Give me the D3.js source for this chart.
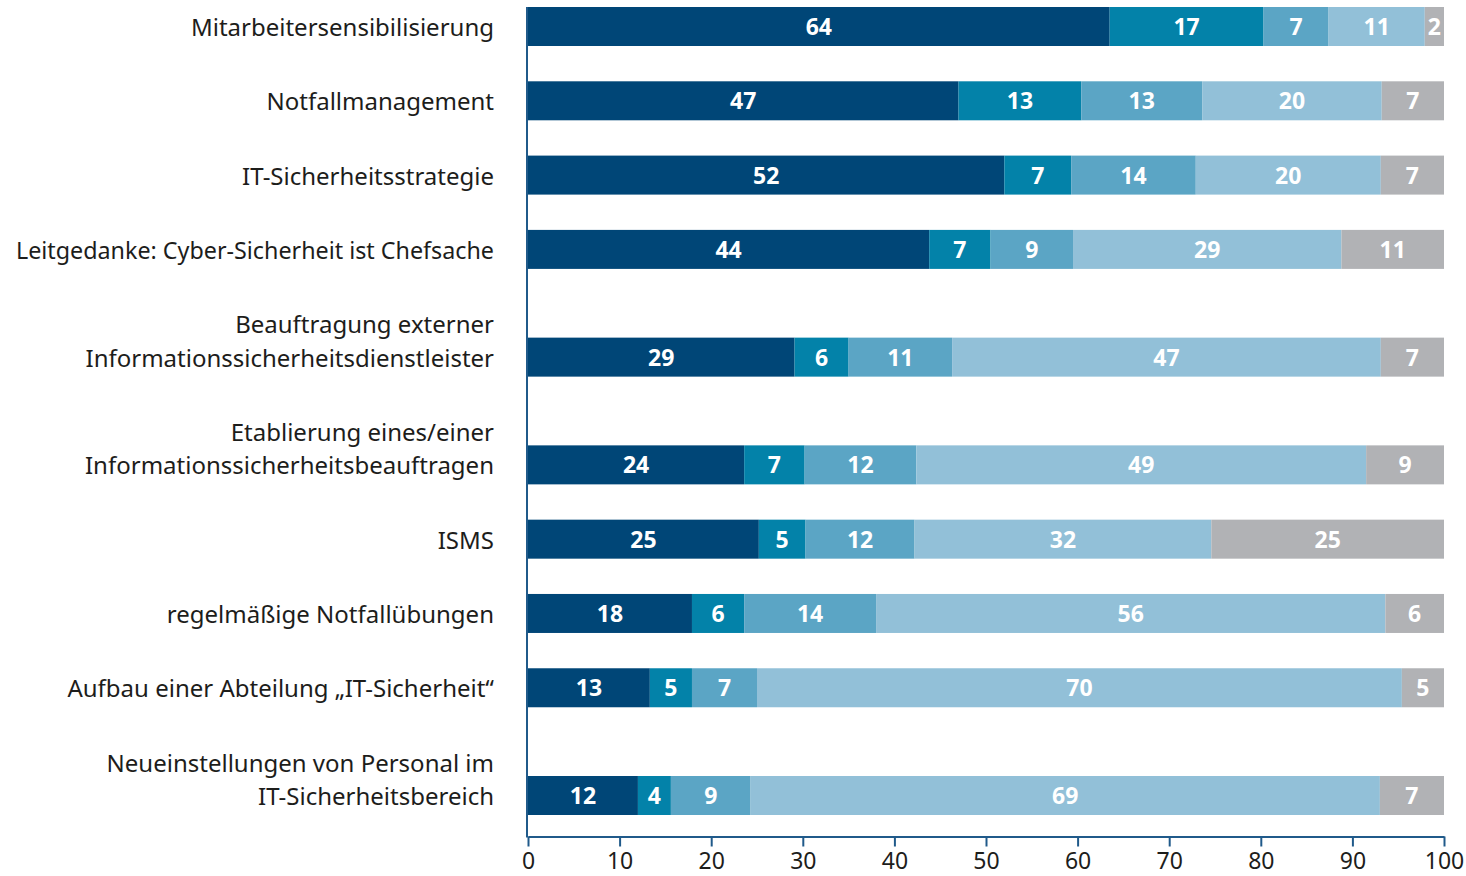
<!DOCTYPE html>
<html>
<head>
<meta charset="utf-8">
<script src="https://cdn.jsdelivr.net/npm/d3@7"></script>
<style>
  body { margin: 0; background: #fff; }
  svg { display: block; font-family: "Noto Sans", sans-serif; }
</style>
</head>
<body>
<div id="chart"></div>
<script>
// categories, each as its label lines
const categories = [
  ["Mitarbeitersensibilisierung"],
  ["Notfallmanagement"],
  ["IT-Sicherheitsstrategie"],
  ["Leitgedanke: Cyber-Sicherheit ist Chefsache"],
  ["Beauftragung externer", "Informationssicherheitsdienstleister"],
  ["Etablierung eines/einer", "Informationssicherheitsbeauftragen"],
  ["ISMS"],
  ["regelmäßige Notfallübungen"],
  ["Aufbau einer Abteilung „IT-Sicherheit“"],
  ["Neueinstellungen von Personal im", "IT-Sicherheitsbereich"]
];

// five answer groups, percent per category
const series1 = [63.5, 47.0, 52.0, 43.8, 29.1, 23.6, 25.2, 17.9, 13.3, 12.0];
const series2 = [16.8, 13.4, 7.3, 6.7, 5.9, 6.6, 5.1, 5.7, 4.6, 3.6];
const series3 = [7.1, 13.2, 13.6, 9.0, 11.3, 12.2, 11.9, 14.4, 7.1, 8.7];
const series4 = [10.5, 19.6, 20.2, 29.3, 46.8, 49.1, 32.4, 55.6, 70.4, 68.7];
const series5 = [2.1, 6.8, 6.9, 11.2, 6.9, 8.5, 25.4, 6.4, 4.6, 7.0];

const colors = ["#004677", "#0382a9", "#5ba5c5", "#92c0d8", "#b1b2b5"];
const xTicks = [0, 10, 20, 30, 40, 50, 60, 70, 80, 90, 100];

const width = 1466, height = 876;
const barH = 39;
const lineGap = 33.5;
const labelRight = 494;
const labelMaxW = 478;

const svg = d3.select("#chart").append("svg")
  .attr("width", width)
  .attr("height", height);

// rows with two label lines get extra room above the bar
const rowPos = [];
let acc = 0;
categories.forEach((lines, i) => {
  if (i > 0) acc += 1 + 0.45 * (lines.length - 1);
  rowPos.push(acc);
});

const y = d3.scaleLinear().domain([0, acc]).range([7, 776]);
const x = d3.scaleLinear().domain([0, 100]).range([528, 1444]);

const rows = categories.map((lines, i) => {
  const vals = [series1[i], series2[i], series3[i], series4[i], series5[i]];
  let start = 0;
  const segs = vals.map((v, k) => {
    const s = { x0: start, x1: start + v, v: v, k: k };
    start += v;
    return s;
  });
  return { lines, top: y(rowPos[i]), segs };
});

const row = svg.selectAll(".row")
  .data(rows)
  .join("g")
  .attr("class", "row")
  .attr("transform", d => `translate(0,${d.top})`);

row.selectAll("rect")
  .data(d => d.segs)
  .join("rect")
  .attr("x", d => x(d.x0))
  .attr("width", d => x(d.x1) - x(d.x0))
  .attr("y", 0)
  .attr("height", barH)
  .attr("fill", d => colors[d.k]);

row.selectAll(".val")
  .data(d => d.segs)
  .join("text")
  .attr("class", "val")
  .attr("x", d => (x(d.x0) + x(d.x1)) / 2)
  .attr("y", barH / 2 + 8.5)
  .attr("text-anchor", "middle")
  .attr("fill", "#fff")
  .attr("font-weight", 700)
  .attr("font-size", "23px")
  .text(d => Math.round(d.v));

// category labels, last line centred on the bar
row.selectAll(".cat")
  .data(d => d.lines.map((t, j) => ({ t, off: (d.lines.length - 1 - j) * lineGap })))
  .join("text")
  .attr("class", "cat")
  .attr("x", labelRight)
  .attr("y", d => barH / 2 + 9.5 - d.off)
  .attr("text-anchor", "end")
  .attr("font-size", "24px")
  .attr("fill", "#1d1d1b")
  .text(d => d.t)
  .each(function() {
    // the original face is narrower; squeeze a line that would run off the left
    if (this.getComputedTextLength() > labelMaxW) {
      d3.select(this)
        .attr("textLength", labelMaxW)
        .attr("lengthAdjust", "spacingAndGlyphs");
    }
  });

// axes
const axisColor = "#205a8a";
const axisY = 836.5;

svg.append("line")
  .attr("x1", 527).attr("x2", 527)
  .attr("y1", y(0)).attr("y2", axisY + 1)
  .attr("stroke", axisColor)
  .attr("stroke-width", 2);

const xAxis = svg.append("g")
  .attr("transform", `translate(0,${axisY})`)
  .call(d3.axisBottom(x).tickValues(xTicks).tickSize(10).tickSizeOuter(0).tickPadding(6));

xAxis.select(".domain")
  .attr("stroke", axisColor)
  .attr("stroke-width", 2);
xAxis.selectAll(".tick line")
  .attr("stroke", axisColor)
  .attr("stroke-width", 2);
xAxis.selectAll(".tick text")
  .attr("fill", "#1d1d1b")
  .attr("font-size", "23px")
  .attr("font-family", "Noto Sans, sans-serif");
</script>
</body>
</html>
